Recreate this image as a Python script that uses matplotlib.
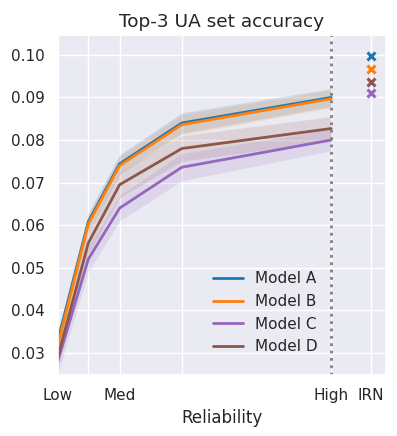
import matplotlib.pyplot as plt
import seaborn as sns
import numpy as np

sns.set_theme(style="darkgrid")

# reliability positions along x (Low .. High), plus IRN slot
rel_pos = [0, 1, 2.03, 4.08, 9]
irn_pos = 10.3
tick_pos = [0, 1, 2.03, 4.08, 9, 10.3]
tick_labels = ["Low", "", "Med", "", "High", "IRN"]

models = ["Model A", "Model B", "Model C", "Model D"]
colors = ["#1f77b4", "#ff7f0e", "#9467bd", "#8c564b"]

acc_a = [0.0330, 0.0608, 0.0744, 0.0840, 0.0900]
acc_b = [0.0320, 0.0603, 0.0740, 0.0836, 0.0897]
acc_c = [0.0282, 0.0520, 0.0640, 0.0736, 0.0800]
acc_d = [0.0292, 0.0558, 0.0695, 0.0780, 0.0827]

err_a = [0.0020, 0.0022, 0.0022, 0.0024, 0.0021]
err_b = [0.0020, 0.0022, 0.0022, 0.0024, 0.0021]
err_c = [0.0030, 0.0030, 0.0030, 0.0032, 0.0025]
err_d = [0.0025, 0.0028, 0.0030, 0.0030, 0.0028]

irn_acc = [0.0997, 0.0967, 0.0910, 0.0936]

accs = [acc_a, acc_b, acc_c, acc_d]
errs = [err_a, err_b, err_c, err_d]

fig, ax = plt.subplots(figsize=(3.97, 4.36), dpi=100)
fig.subplots_adjust(left=0.146, right=0.972, top=0.92, bottom=0.14)

for name, c, acc, err in zip(models, colors, accs, errs):
    acc = np.array(acc)
    err = np.array(err)
    ax.plot(rel_pos, acc, color=c, lw=2, label=name)
    ax.fill_between(rel_pos, acc - err, acc + err, color=c, alpha=0.15, lw=0)

for c, v in zip(colors, irn_acc):
    ax.plot([irn_pos], [v], marker="x", color=c, ms=6, mew=2.2, ls="none")

ax.axvline(9, color="gray", ls=":", lw=2)

ax.set_xticks(tick_pos)
ax.set_xticklabels(tick_labels)
ax.set_xlim(0, 10.8)
ax.set_ylim(0.0248, 0.1047)
ax.set_xlabel("Reliability")
ax.set_title("Top-3 UA set accuracy", fontsize=13.3)
ax.legend(loc="lower right", bbox_to_anchor=(0.835, 0.02), frameon=False)

plt.savefig("out.png", dpi=100)
